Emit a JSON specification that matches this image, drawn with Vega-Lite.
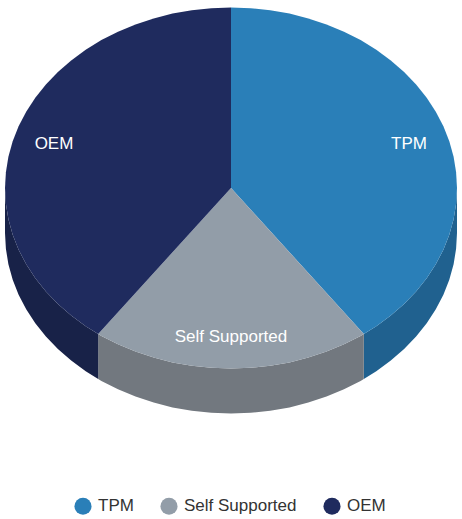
{
  "$schema": "https://vega.github.io/schema/vega-lite/v6.json",
  "description": "Support type share, drawn as a tilted pie",
  "width": 462,
  "height": 519,
  "padding": 0,
  "autosize": "none",
  "background": "white",
  "config": {"view": {"stroke": null}},
  "datasets": {
    "side": [
      {"source": "TPM", "x": 363.8, "y": 334, "y2": 379},
      {"source": "TPM", "x": 376.3, "y": 326.3, "y2": 371.3},
      {"source": "TPM", "x": 390.8, "y": 315.6, "y2": 360.6},
      {"source": "TPM", "x": 404.1, "y": 304, "y2": 349},
      {"source": "TPM", "x": 416.1, "y": 291.5, "y2": 336.5},
      {"source": "TPM", "x": 426.7, "y": 278.3, "y2": 323.3},
      {"source": "TPM", "x": 435.8, "y": 264.3, "y2": 309.3},
      {"source": "TPM", "x": 443.4, "y": 249.7, "y2": 294.7},
      {"source": "TPM", "x": 449.3, "y": 234.7, "y2": 279.7},
      {"source": "TPM", "x": 453.6, "y": 219.3, "y2": 264.3},
      {"source": "TPM", "x": 456.1, "y": 203.7, "y2": 248.7},
      {"source": "TPM", "x": 457, "y": 188, "y2": 233},
      {"source": "Self Supported", "x": 98.2, "y": 334, "y2": 379},
      {"source": "Self Supported", "x": 101.4, "y": 335.9, "y2": 380.9},
      {"source": "Self Supported", "x": 118, "y": 344.3, "y2": 389.3},
      {"source": "Self Supported", "x": 135.5, "y": 351.6, "y2": 396.6},
      {"source": "Self Supported", "x": 153.7, "y": 357.6, "y2": 402.6},
      {"source": "Self Supported", "x": 172.5, "y": 362.4, "y2": 407.4},
      {"source": "Self Supported", "x": 191.8, "y": 365.8, "y2": 410.8},
      {"source": "Self Supported", "x": 211.3, "y": 367.8, "y2": 412.8},
      {"source": "Self Supported", "x": 231, "y": 368.5, "y2": 413.5},
      {"source": "Self Supported", "x": 250.7, "y": 367.8, "y2": 412.8},
      {"source": "Self Supported", "x": 270.2, "y": 365.8, "y2": 410.8},
      {"source": "Self Supported", "x": 289.5, "y": 362.4, "y2": 407.4},
      {"source": "Self Supported", "x": 308.3, "y": 357.6, "y2": 402.6},
      {"source": "Self Supported", "x": 326.5, "y": 351.6, "y2": 396.6},
      {"source": "Self Supported", "x": 344, "y": 344.3, "y2": 389.3},
      {"source": "Self Supported", "x": 360.6, "y": 335.9, "y2": 380.9},
      {"source": "Self Supported", "x": 363.8, "y": 334, "y2": 379},
      {"source": "OEM", "x": 5, "y": 188, "y2": 233},
      {"source": "OEM", "x": 5.9, "y": 203.7, "y2": 248.7},
      {"source": "OEM", "x": 8.4, "y": 219.3, "y2": 264.3},
      {"source": "OEM", "x": 12.7, "y": 234.7, "y2": 279.7},
      {"source": "OEM", "x": 18.6, "y": 249.7, "y2": 294.7},
      {"source": "OEM", "x": 26.2, "y": 264.3, "y2": 309.3},
      {"source": "OEM", "x": 35.3, "y": 278.3, "y2": 323.3},
      {"source": "OEM", "x": 45.9, "y": 291.5, "y2": 336.5},
      {"source": "OEM", "x": 57.9, "y": 304, "y2": 349},
      {"source": "OEM", "x": 71.2, "y": 315.6, "y2": 360.6},
      {"source": "OEM", "x": 85.7, "y": 326.3, "y2": 371.3},
      {"source": "OEM", "x": 98.2, "y": 334, "y2": 379}
    ],
    "top": [
      {"source": "TPM", "i": 0, "x": 231, "y": 188},
      {"source": "TPM", "i": 1, "x": 231, "y": 7.5},
      {"source": "TPM", "i": 2, "x": 250.7, "y": 8.2},
      {"source": "TPM", "i": 3, "x": 270.2, "y": 10.2},
      {"source": "TPM", "i": 4, "x": 289.5, "y": 13.6},
      {"source": "TPM", "i": 5, "x": 308.3, "y": 18.4},
      {"source": "TPM", "i": 6, "x": 326.5, "y": 24.4},
      {"source": "TPM", "i": 7, "x": 344, "y": 31.7},
      {"source": "TPM", "i": 8, "x": 360.6, "y": 40.1},
      {"source": "TPM", "i": 9, "x": 376.3, "y": 49.7},
      {"source": "TPM", "i": 10, "x": 390.8, "y": 60.4},
      {"source": "TPM", "i": 11, "x": 404.1, "y": 72},
      {"source": "TPM", "i": 12, "x": 416.1, "y": 84.5},
      {"source": "TPM", "i": 13, "x": 426.7, "y": 97.7},
      {"source": "TPM", "i": 14, "x": 435.8, "y": 111.7},
      {"source": "TPM", "i": 15, "x": 443.4, "y": 126.3},
      {"source": "TPM", "i": 16, "x": 449.3, "y": 141.3},
      {"source": "TPM", "i": 17, "x": 453.6, "y": 156.7},
      {"source": "TPM", "i": 18, "x": 456.1, "y": 172.3},
      {"source": "TPM", "i": 19, "x": 457, "y": 188},
      {"source": "TPM", "i": 20, "x": 456.1, "y": 203.7},
      {"source": "TPM", "i": 21, "x": 453.6, "y": 219.3},
      {"source": "TPM", "i": 22, "x": 449.3, "y": 234.7},
      {"source": "TPM", "i": 23, "x": 443.4, "y": 249.7},
      {"source": "TPM", "i": 24, "x": 435.8, "y": 264.3},
      {"source": "TPM", "i": 25, "x": 426.7, "y": 278.3},
      {"source": "TPM", "i": 26, "x": 416.1, "y": 291.5},
      {"source": "TPM", "i": 27, "x": 404.1, "y": 304},
      {"source": "TPM", "i": 28, "x": 390.8, "y": 315.6},
      {"source": "TPM", "i": 29, "x": 376.3, "y": 326.3},
      {"source": "TPM", "i": 30, "x": 363.8, "y": 334},
      {"source": "Self Supported", "i": 0, "x": 231, "y": 188},
      {"source": "Self Supported", "i": 1, "x": 363.8, "y": 334},
      {"source": "Self Supported", "i": 2, "x": 360.6, "y": 335.9},
      {"source": "Self Supported", "i": 3, "x": 344, "y": 344.3},
      {"source": "Self Supported", "i": 4, "x": 326.5, "y": 351.6},
      {"source": "Self Supported", "i": 5, "x": 308.3, "y": 357.6},
      {"source": "Self Supported", "i": 6, "x": 289.5, "y": 362.4},
      {"source": "Self Supported", "i": 7, "x": 270.2, "y": 365.8},
      {"source": "Self Supported", "i": 8, "x": 250.7, "y": 367.8},
      {"source": "Self Supported", "i": 9, "x": 231, "y": 368.5},
      {"source": "Self Supported", "i": 10, "x": 211.3, "y": 367.8},
      {"source": "Self Supported", "i": 11, "x": 191.8, "y": 365.8},
      {"source": "Self Supported", "i": 12, "x": 172.5, "y": 362.4},
      {"source": "Self Supported", "i": 13, "x": 153.7, "y": 357.6},
      {"source": "Self Supported", "i": 14, "x": 135.5, "y": 351.6},
      {"source": "Self Supported", "i": 15, "x": 118, "y": 344.3},
      {"source": "Self Supported", "i": 16, "x": 101.4, "y": 335.9},
      {"source": "Self Supported", "i": 17, "x": 98.2, "y": 334},
      {"source": "OEM", "i": 0, "x": 231, "y": 188},
      {"source": "OEM", "i": 1, "x": 98.2, "y": 334},
      {"source": "OEM", "i": 2, "x": 85.7, "y": 326.3},
      {"source": "OEM", "i": 3, "x": 71.2, "y": 315.6},
      {"source": "OEM", "i": 4, "x": 57.9, "y": 304},
      {"source": "OEM", "i": 5, "x": 45.9, "y": 291.5},
      {"source": "OEM", "i": 6, "x": 35.3, "y": 278.3},
      {"source": "OEM", "i": 7, "x": 26.2, "y": 264.3},
      {"source": "OEM", "i": 8, "x": 18.6, "y": 249.7},
      {"source": "OEM", "i": 9, "x": 12.7, "y": 234.7},
      {"source": "OEM", "i": 10, "x": 8.4, "y": 219.3},
      {"source": "OEM", "i": 11, "x": 5.9, "y": 203.7},
      {"source": "OEM", "i": 12, "x": 5, "y": 188},
      {"source": "OEM", "i": 13, "x": 5.9, "y": 172.3},
      {"source": "OEM", "i": 14, "x": 8.4, "y": 156.7},
      {"source": "OEM", "i": 15, "x": 12.7, "y": 141.3},
      {"source": "OEM", "i": 16, "x": 18.6, "y": 126.3},
      {"source": "OEM", "i": 17, "x": 26.2, "y": 111.7},
      {"source": "OEM", "i": 18, "x": 35.3, "y": 97.7},
      {"source": "OEM", "i": 19, "x": 45.9, "y": 84.5},
      {"source": "OEM", "i": 20, "x": 57.9, "y": 72},
      {"source": "OEM", "i": 21, "x": 71.2, "y": 60.4},
      {"source": "OEM", "i": 22, "x": 85.7, "y": 49.7},
      {"source": "OEM", "i": 23, "x": 101.4, "y": 40.1},
      {"source": "OEM", "i": 24, "x": 118, "y": 31.7},
      {"source": "OEM", "i": 25, "x": 135.5, "y": 24.4},
      {"source": "OEM", "i": 26, "x": 153.7, "y": 18.4},
      {"source": "OEM", "i": 27, "x": 172.5, "y": 13.6},
      {"source": "OEM", "i": 28, "x": 191.8, "y": 10.2},
      {"source": "OEM", "i": 29, "x": 211.3, "y": 8.2},
      {"source": "OEM", "i": 30, "x": 231, "y": 7.5}
    ],
    "labels": [
      {"source": "TPM", "x": 409, "y": 144},
      {"source": "Self Supported", "x": 231, "y": 337},
      {"source": "OEM", "x": 54, "y": 144}
    ]
  },
  "encoding": {
    "x": {"field": "x", "type": "quantitative", "axis": null, "scale": {"domain": [0, 462], "nice": false, "zero": false}},
    "y": {"field": "y", "type": "quantitative", "axis": null, "scale": {"domain": [519, 0], "nice": false, "zero": false}}
  },
  "layer": [
    {
      "data": {"name": "side"},
      "mark": {"type": "area", "interpolate": "linear"},
      "encoding": {
        "y2": {"field": "y2"},
        "color": {
          "field": "source",
          "type": "nominal",
          "legend": null,
          "scale": {"domain": ["TPM", "Self Supported", "OEM"], "range": ["#20618F", "#72787F", "#182248"]}
        }
      }
    },
    {
      "data": {"name": "top"},
      "mark": {"type": "line", "filled": true, "strokeWidth": 0},
      "encoding": {
        "order": {"field": "i", "type": "quantitative"},
        "color": {
          "field": "source",
          "type": "nominal",
          "scale": {"domain": ["TPM", "Self Supported", "OEM"], "range": ["#2A7FB8", "#929DA8", "#1F2B5E"]},
          "legend": {
            "title": null,
            "orient": "none",
            "legendX": 74,
            "legendY": 497,
            "direction": "horizontal",
            "columns": 3,
            "symbolType": "circle",
            "symbolSize": 290,
            "symbolStrokeWidth": 0,
            "labelFont": "Liberation Sans",
            "labelFontSize": 17,
            "labelColor": "#333333",
            "labelOffset": 6,
            "columnPadding": 26,
            "padding": 0
          }
        }
      }
    },
    {
      "data": {"name": "labels"},
      "mark": {"type": "text", "color": "white", "font": "Liberation Sans", "fontSize": 17, "align": "center", "baseline": "middle"},
      "encoding": {"text": {"field": "source", "type": "nominal"}}
    }
  ],
  "resolve": {"scale": {"color": "independent"}}
}
